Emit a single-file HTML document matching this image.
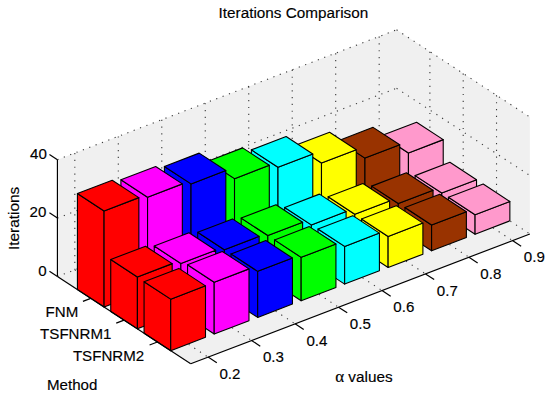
<!DOCTYPE html>
<html><head><meta charset="utf-8">
<style>
html,body{margin:0;padding:0;background:#fff;}
#c{position:relative;width:550px;height:399px;overflow:hidden;background:#fff;font-family:"Liberation Sans",sans-serif;color:#000;}
#c svg{position:absolute;left:0;top:0;}
.t{position:absolute;font-size:14.7px;line-height:1;white-space:nowrap;-webkit-text-stroke:0.15px #000;}
</style></head><body>
<div id="c">
<svg width="550" height="399" viewBox="0 0 550 399">
<polygon points="57.43,159.64 396.57,29.82 529.85,117.06 529.85,233.94 190.71,363.76 57.43,276.52" fill="#f0f0f0"/>
<line x1="74.82" y1="269.86" x2="74.82" y2="152.98" stroke="#3a3a3a" stroke-width="1.1" stroke-linecap="butt" stroke-dasharray="1.2 5.6"/>
<line x1="74.82" y1="269.86" x2="208.10" y2="357.10" stroke="#3a3a3a" stroke-width="1.1" stroke-linecap="butt" stroke-dasharray="1.2 5.6"/>
<line x1="118.30" y1="253.22" x2="118.30" y2="136.34" stroke="#3a3a3a" stroke-width="1.1" stroke-linecap="butt" stroke-dasharray="1.2 5.6"/>
<line x1="118.30" y1="253.22" x2="251.58" y2="340.46" stroke="#3a3a3a" stroke-width="1.1" stroke-linecap="butt" stroke-dasharray="1.2 5.6"/>
<line x1="161.78" y1="236.57" x2="161.78" y2="119.69" stroke="#3a3a3a" stroke-width="1.1" stroke-linecap="butt" stroke-dasharray="1.2 5.6"/>
<line x1="161.78" y1="236.57" x2="295.06" y2="323.81" stroke="#3a3a3a" stroke-width="1.1" stroke-linecap="butt" stroke-dasharray="1.2 5.6"/>
<line x1="205.26" y1="219.93" x2="205.26" y2="103.05" stroke="#3a3a3a" stroke-width="1.1" stroke-linecap="butt" stroke-dasharray="1.2 5.6"/>
<line x1="205.26" y1="219.93" x2="338.54" y2="307.17" stroke="#3a3a3a" stroke-width="1.1" stroke-linecap="butt" stroke-dasharray="1.2 5.6"/>
<line x1="248.74" y1="203.29" x2="248.74" y2="86.41" stroke="#3a3a3a" stroke-width="1.1" stroke-linecap="butt" stroke-dasharray="1.2 5.6"/>
<line x1="248.74" y1="203.29" x2="382.02" y2="290.53" stroke="#3a3a3a" stroke-width="1.1" stroke-linecap="butt" stroke-dasharray="1.2 5.6"/>
<line x1="292.22" y1="186.64" x2="292.22" y2="69.76" stroke="#3a3a3a" stroke-width="1.1" stroke-linecap="butt" stroke-dasharray="1.2 5.6"/>
<line x1="292.22" y1="186.64" x2="425.50" y2="273.88" stroke="#3a3a3a" stroke-width="1.1" stroke-linecap="butt" stroke-dasharray="1.2 5.6"/>
<line x1="335.70" y1="170.00" x2="335.70" y2="53.12" stroke="#3a3a3a" stroke-width="1.1" stroke-linecap="butt" stroke-dasharray="1.2 5.6"/>
<line x1="335.70" y1="170.00" x2="468.98" y2="257.24" stroke="#3a3a3a" stroke-width="1.1" stroke-linecap="butt" stroke-dasharray="1.2 5.6"/>
<line x1="379.18" y1="153.35" x2="379.18" y2="36.47" stroke="#3a3a3a" stroke-width="1.1" stroke-linecap="butt" stroke-dasharray="1.2 5.6"/>
<line x1="379.18" y1="153.35" x2="512.46" y2="240.59" stroke="#3a3a3a" stroke-width="1.1" stroke-linecap="butt" stroke-dasharray="1.2 5.6"/>
<line x1="429.89" y1="168.51" x2="429.89" y2="51.63" stroke="#3a3a3a" stroke-width="1.1" stroke-linecap="butt" stroke-dasharray="1.2 5.6"/>
<line x1="90.75" y1="298.33" x2="429.89" y2="168.51" stroke="#3a3a3a" stroke-width="1.1" stroke-linecap="butt" stroke-dasharray="1.2 5.6"/>
<line x1="463.21" y1="190.32" x2="463.21" y2="73.44" stroke="#3a3a3a" stroke-width="1.1" stroke-linecap="butt" stroke-dasharray="1.2 5.6"/>
<line x1="124.07" y1="320.14" x2="463.21" y2="190.32" stroke="#3a3a3a" stroke-width="1.1" stroke-linecap="butt" stroke-dasharray="1.2 5.6"/>
<line x1="496.53" y1="212.13" x2="496.53" y2="95.25" stroke="#3a3a3a" stroke-width="1.1" stroke-linecap="butt" stroke-dasharray="1.2 5.6"/>
<line x1="157.39" y1="341.95" x2="496.53" y2="212.13" stroke="#3a3a3a" stroke-width="1.1" stroke-linecap="butt" stroke-dasharray="1.2 5.6"/>
<line x1="57.43" y1="276.52" x2="396.57" y2="146.70" stroke="#3a3a3a" stroke-width="1.1" stroke-linecap="butt" stroke-dasharray="1.2 5.6"/>
<line x1="396.57" y1="146.70" x2="529.85" y2="233.94" stroke="#3a3a3a" stroke-width="1.1" stroke-linecap="butt" stroke-dasharray="1.2 5.6"/>
<line x1="57.43" y1="218.08" x2="396.57" y2="88.26" stroke="#3a3a3a" stroke-width="1.1" stroke-linecap="butt" stroke-dasharray="1.2 5.6"/>
<line x1="396.57" y1="88.26" x2="529.85" y2="175.50" stroke="#3a3a3a" stroke-width="1.1" stroke-linecap="butt" stroke-dasharray="1.2 5.6"/>
<line x1="57.43" y1="159.64" x2="396.57" y2="29.82" stroke="#3a3a3a" stroke-width="1.1" stroke-linecap="butt" stroke-dasharray="1.2 5.6"/>
<line x1="396.57" y1="29.82" x2="529.85" y2="117.06" stroke="#3a3a3a" stroke-width="1.1" stroke-linecap="butt" stroke-dasharray="1.2 5.6"/>
<polygon points="381.78,173.10 408.44,190.55 408.44,152.94 381.78,135.49" fill="#ff99cc" stroke="#000" stroke-width="1.1" stroke-linejoin="round"/>
<polygon points="408.44,190.55 443.22,177.23 443.22,139.62 408.44,152.94" fill="#ff99cc" stroke="#000" stroke-width="1.1" stroke-linejoin="round"/>
<polygon points="381.78,135.49 416.57,122.18 443.22,139.62 408.44,152.94" fill="#ff99cc" stroke="#000" stroke-width="1.1" stroke-linejoin="round"/>
<polygon points="338.30,189.74 364.96,207.19 364.96,158.10 338.30,140.65" fill="#993300" stroke="#000" stroke-width="1.1" stroke-linejoin="round"/>
<polygon points="364.96,207.19 399.74,193.87 399.74,144.79 364.96,158.10" fill="#993300" stroke="#000" stroke-width="1.1" stroke-linejoin="round"/>
<polygon points="338.30,140.65 373.09,127.34 399.74,144.79 364.96,158.10" fill="#993300" stroke="#000" stroke-width="1.1" stroke-linejoin="round"/>
<polygon points="294.82,206.39 321.48,223.83 321.48,163.06 294.82,145.61" fill="#ffff00" stroke="#000" stroke-width="1.1" stroke-linejoin="round"/>
<polygon points="321.48,223.83 356.26,210.52 356.26,149.74 321.48,163.06" fill="#ffff00" stroke="#000" stroke-width="1.1" stroke-linejoin="round"/>
<polygon points="294.82,145.61 329.61,132.29 356.26,149.74 321.48,163.06" fill="#ffff00" stroke="#000" stroke-width="1.1" stroke-linejoin="round"/>
<polygon points="251.34,223.03 278.00,240.48 278.00,167.28 251.34,149.83" fill="#00ffff" stroke="#000" stroke-width="1.1" stroke-linejoin="round"/>
<polygon points="278.00,240.48 312.78,227.16 312.78,153.97 278.00,167.28" fill="#00ffff" stroke="#000" stroke-width="1.1" stroke-linejoin="round"/>
<polygon points="251.34,149.83 286.13,136.52 312.78,153.97 278.00,167.28" fill="#00ffff" stroke="#000" stroke-width="1.1" stroke-linejoin="round"/>
<polygon points="207.86,239.67 234.52,257.12 234.52,178.64 207.86,161.19" fill="#00ff00" stroke="#000" stroke-width="1.1" stroke-linejoin="round"/>
<polygon points="234.52,257.12 269.30,243.81 269.30,165.32 234.52,178.64" fill="#00ff00" stroke="#000" stroke-width="1.1" stroke-linejoin="round"/>
<polygon points="207.86,161.19 242.65,147.87 269.30,165.32 234.52,178.64" fill="#00ff00" stroke="#000" stroke-width="1.1" stroke-linejoin="round"/>
<polygon points="164.38,256.32 191.04,273.77 191.04,183.89 164.38,166.44" fill="#0000ff" stroke="#000" stroke-width="1.1" stroke-linejoin="round"/>
<polygon points="191.04,273.77 225.82,260.45 225.82,170.57 191.04,183.89" fill="#0000ff" stroke="#000" stroke-width="1.1" stroke-linejoin="round"/>
<polygon points="164.38,166.44 199.17,153.12 225.82,170.57 191.04,183.89" fill="#0000ff" stroke="#000" stroke-width="1.1" stroke-linejoin="round"/>
<polygon points="120.90,272.96 147.56,290.41 147.56,197.20 120.90,179.75" fill="#ff00ff" stroke="#000" stroke-width="1.1" stroke-linejoin="round"/>
<polygon points="147.56,290.41 182.34,277.09 182.34,183.88 147.56,197.20" fill="#ff00ff" stroke="#000" stroke-width="1.1" stroke-linejoin="round"/>
<polygon points="120.90,179.75 155.69,166.44 182.34,183.88 147.56,197.20" fill="#ff00ff" stroke="#000" stroke-width="1.1" stroke-linejoin="round"/>
<polygon points="77.42,289.61 104.08,307.05 104.08,210.95 77.42,193.50" fill="#ff0000" stroke="#000" stroke-width="1.1" stroke-linejoin="round"/>
<polygon points="104.08,307.05 138.86,293.74 138.86,197.63 104.08,210.95" fill="#ff0000" stroke="#000" stroke-width="1.1" stroke-linejoin="round"/>
<polygon points="77.42,193.50 112.21,180.19 138.86,197.63 104.08,210.95" fill="#ff0000" stroke="#000" stroke-width="1.1" stroke-linejoin="round"/>
<polygon points="415.10,194.91 441.76,212.36 441.76,193.07 415.10,175.62" fill="#ff99cc" stroke="#000" stroke-width="1.1" stroke-linejoin="round"/>
<polygon points="441.76,212.36 476.54,199.04 476.54,179.76 441.76,193.07" fill="#ff99cc" stroke="#000" stroke-width="1.1" stroke-linejoin="round"/>
<polygon points="415.10,175.62 449.89,162.31 476.54,179.76 441.76,193.07" fill="#ff99cc" stroke="#000" stroke-width="1.1" stroke-linejoin="round"/>
<polygon points="371.62,211.55 398.28,229.00 398.28,203.58 371.62,186.13" fill="#993300" stroke="#000" stroke-width="1.1" stroke-linejoin="round"/>
<polygon points="398.28,229.00 433.06,215.68 433.06,190.26 398.28,203.58" fill="#993300" stroke="#000" stroke-width="1.1" stroke-linejoin="round"/>
<polygon points="371.62,186.13 406.41,172.82 433.06,190.26 398.28,203.58" fill="#993300" stroke="#000" stroke-width="1.1" stroke-linejoin="round"/>
<polygon points="328.14,228.20 354.80,245.64 354.80,214.23 328.14,196.78" fill="#ffff00" stroke="#000" stroke-width="1.1" stroke-linejoin="round"/>
<polygon points="354.80,245.64 389.58,232.33 389.58,200.92 354.80,214.23" fill="#ffff00" stroke="#000" stroke-width="1.1" stroke-linejoin="round"/>
<polygon points="328.14,196.78 362.93,183.47 389.58,200.92 354.80,214.23" fill="#ffff00" stroke="#000" stroke-width="1.1" stroke-linejoin="round"/>
<polygon points="284.66,244.84 311.32,262.29 311.32,224.89 284.66,207.44" fill="#00ffff" stroke="#000" stroke-width="1.1" stroke-linejoin="round"/>
<polygon points="311.32,262.29 346.10,248.97 346.10,211.57 311.32,224.89" fill="#00ffff" stroke="#000" stroke-width="1.1" stroke-linejoin="round"/>
<polygon points="284.66,207.44 319.45,194.12 346.10,211.57 311.32,224.89" fill="#00ffff" stroke="#000" stroke-width="1.1" stroke-linejoin="round"/>
<polygon points="241.18,261.48 267.84,278.93 267.84,235.54 241.18,218.09" fill="#00ff00" stroke="#000" stroke-width="1.1" stroke-linejoin="round"/>
<polygon points="267.84,278.93 302.62,265.62 302.62,222.23 267.84,235.54" fill="#00ff00" stroke="#000" stroke-width="1.1" stroke-linejoin="round"/>
<polygon points="241.18,218.09 275.97,204.78 302.62,222.23 267.84,235.54" fill="#00ff00" stroke="#000" stroke-width="1.1" stroke-linejoin="round"/>
<polygon points="197.70,278.13 224.36,295.58 224.36,249.67 197.70,232.22" fill="#0000ff" stroke="#000" stroke-width="1.1" stroke-linejoin="round"/>
<polygon points="224.36,295.58 259.14,282.26 259.14,236.36 224.36,249.67" fill="#0000ff" stroke="#000" stroke-width="1.1" stroke-linejoin="round"/>
<polygon points="197.70,232.22 232.49,218.91 259.14,236.36 224.36,249.67" fill="#0000ff" stroke="#000" stroke-width="1.1" stroke-linejoin="round"/>
<polygon points="154.22,294.77 180.88,312.22 180.88,263.48 154.22,246.03" fill="#ff00ff" stroke="#000" stroke-width="1.1" stroke-linejoin="round"/>
<polygon points="180.88,312.22 215.66,298.90 215.66,250.17 180.88,263.48" fill="#ff00ff" stroke="#000" stroke-width="1.1" stroke-linejoin="round"/>
<polygon points="154.22,246.03 189.01,232.72 215.66,250.17 180.88,263.48" fill="#ff00ff" stroke="#000" stroke-width="1.1" stroke-linejoin="round"/>
<polygon points="110.74,311.42 137.40,328.86 137.40,276.94 110.74,259.49" fill="#ff0000" stroke="#000" stroke-width="1.1" stroke-linejoin="round"/>
<polygon points="137.40,328.86 172.18,315.55 172.18,263.62 137.40,276.94" fill="#ff0000" stroke="#000" stroke-width="1.1" stroke-linejoin="round"/>
<polygon points="110.74,259.49 145.53,246.18 172.18,263.62 137.40,276.94" fill="#ff0000" stroke="#000" stroke-width="1.1" stroke-linejoin="round"/>
<polygon points="448.42,216.72 475.08,234.17 475.08,214.76 448.42,197.32" fill="#ff99cc" stroke="#000" stroke-width="1.1" stroke-linejoin="round"/>
<polygon points="475.08,234.17 509.86,220.85 509.86,201.45 475.08,214.76" fill="#ff99cc" stroke="#000" stroke-width="1.1" stroke-linejoin="round"/>
<polygon points="448.42,197.32 483.21,184.00 509.86,201.45 475.08,214.76" fill="#ff99cc" stroke="#000" stroke-width="1.1" stroke-linejoin="round"/>
<polygon points="404.94,233.36 431.60,250.81 431.60,225.01 404.94,207.56" fill="#993300" stroke="#000" stroke-width="1.1" stroke-linejoin="round"/>
<polygon points="431.60,250.81 466.38,237.49 466.38,211.69 431.60,225.01" fill="#993300" stroke="#000" stroke-width="1.1" stroke-linejoin="round"/>
<polygon points="404.94,207.56 439.73,194.25 466.38,211.69 431.60,225.01" fill="#993300" stroke="#000" stroke-width="1.1" stroke-linejoin="round"/>
<polygon points="361.46,250.01 388.12,267.45 388.12,236.42 361.46,218.97" fill="#ffff00" stroke="#000" stroke-width="1.1" stroke-linejoin="round"/>
<polygon points="388.12,267.45 422.90,254.14 422.90,223.11 388.12,236.42" fill="#ffff00" stroke="#000" stroke-width="1.1" stroke-linejoin="round"/>
<polygon points="361.46,218.97 396.25,205.66 422.90,223.11 388.12,236.42" fill="#ffff00" stroke="#000" stroke-width="1.1" stroke-linejoin="round"/>
<polygon points="317.98,266.65 344.64,284.10 344.64,246.40 317.98,228.96" fill="#00ffff" stroke="#000" stroke-width="1.1" stroke-linejoin="round"/>
<polygon points="344.64,284.10 379.42,270.78 379.42,233.09 344.64,246.40" fill="#00ffff" stroke="#000" stroke-width="1.1" stroke-linejoin="round"/>
<polygon points="317.98,228.96 352.77,215.64 379.42,233.09 344.64,246.40" fill="#00ffff" stroke="#000" stroke-width="1.1" stroke-linejoin="round"/>
<polygon points="274.50,283.29 301.16,300.74 301.16,257.35 274.50,239.90" fill="#00ff00" stroke="#000" stroke-width="1.1" stroke-linejoin="round"/>
<polygon points="301.16,300.74 335.94,287.43 335.94,244.04 301.16,257.35" fill="#00ff00" stroke="#000" stroke-width="1.1" stroke-linejoin="round"/>
<polygon points="274.50,239.90 309.29,226.59 335.94,244.04 301.16,257.35" fill="#00ff00" stroke="#000" stroke-width="1.1" stroke-linejoin="round"/>
<polygon points="231.02,299.94 257.68,317.39 257.68,271.34 231.02,253.89" fill="#0000ff" stroke="#000" stroke-width="1.1" stroke-linejoin="round"/>
<polygon points="257.68,317.39 292.46,304.07 292.46,258.02 257.68,271.34" fill="#0000ff" stroke="#000" stroke-width="1.1" stroke-linejoin="round"/>
<polygon points="231.02,253.89 265.81,240.57 292.46,258.02 257.68,271.34" fill="#0000ff" stroke="#000" stroke-width="1.1" stroke-linejoin="round"/>
<polygon points="187.54,316.58 214.20,334.03 214.20,282.19 187.54,264.75" fill="#ff00ff" stroke="#000" stroke-width="1.1" stroke-linejoin="round"/>
<polygon points="214.20,334.03 248.98,320.71 248.98,268.88 214.20,282.19" fill="#ff00ff" stroke="#000" stroke-width="1.1" stroke-linejoin="round"/>
<polygon points="187.54,264.75 222.33,251.43 248.98,268.88 214.20,282.19" fill="#ff00ff" stroke="#000" stroke-width="1.1" stroke-linejoin="round"/>
<polygon points="144.06,333.23 170.72,350.67 170.72,299.16 144.06,281.71" fill="#ff0000" stroke="#000" stroke-width="1.1" stroke-linejoin="round"/>
<polygon points="170.72,350.67 205.50,337.36 205.50,285.84 170.72,299.16" fill="#ff0000" stroke="#000" stroke-width="1.1" stroke-linejoin="round"/>
<polygon points="144.06,281.71 178.85,268.40 205.50,285.84 170.72,299.16" fill="#ff0000" stroke="#000" stroke-width="1.1" stroke-linejoin="round"/>
<line x1="57.43" y1="276.52" x2="57.43" y2="159.64" stroke="#000" stroke-width="1.2" stroke-linecap="butt"/>
<line x1="57.43" y1="276.52" x2="190.71" y2="363.76" stroke="#000" stroke-width="1.2" stroke-linecap="butt"/>
<line x1="190.71" y1="363.76" x2="529.85" y2="233.94" stroke="#000" stroke-width="1.2" stroke-linecap="butt"/>
<line x1="57.43" y1="276.52" x2="49.43" y2="271.29" stroke="#000" stroke-width="1.2" stroke-linecap="butt"/>
<line x1="57.43" y1="218.08" x2="49.43" y2="212.85" stroke="#000" stroke-width="1.2" stroke-linecap="butt"/>
<line x1="57.43" y1="159.64" x2="49.43" y2="154.41" stroke="#000" stroke-width="1.2" stroke-linecap="butt"/>
<line x1="208.10" y1="357.10" x2="216.77" y2="362.77" stroke="#000" stroke-width="1.2" stroke-linecap="butt"/>
<line x1="251.58" y1="340.46" x2="260.25" y2="346.13" stroke="#000" stroke-width="1.2" stroke-linecap="butt"/>
<line x1="295.06" y1="323.81" x2="303.73" y2="329.49" stroke="#000" stroke-width="1.2" stroke-linecap="butt"/>
<line x1="338.54" y1="307.17" x2="347.21" y2="312.84" stroke="#000" stroke-width="1.2" stroke-linecap="butt"/>
<line x1="382.02" y1="290.53" x2="390.69" y2="296.20" stroke="#000" stroke-width="1.2" stroke-linecap="butt"/>
<line x1="425.50" y1="273.88" x2="434.17" y2="279.55" stroke="#000" stroke-width="1.2" stroke-linecap="butt"/>
<line x1="468.98" y1="257.24" x2="477.65" y2="262.91" stroke="#000" stroke-width="1.2" stroke-linecap="butt"/>
<line x1="512.46" y1="240.59" x2="521.13" y2="246.26" stroke="#000" stroke-width="1.2" stroke-linecap="butt"/>
<line x1="90.75" y1="298.33" x2="82.92" y2="301.33" stroke="#000" stroke-width="1.2" stroke-linecap="butt"/>
<line x1="124.07" y1="320.14" x2="116.24" y2="323.14" stroke="#000" stroke-width="1.2" stroke-linecap="butt"/>
<line x1="157.39" y1="341.95" x2="149.56" y2="344.95" stroke="#000" stroke-width="1.2" stroke-linecap="butt"/>
</svg>
<div class="t" style="left:218.6px;top:4.50px;font-size:15.3px;">Iterations Comparison</div>
<div class="t" style="left:30.0px;top:145.53px;font-size:15.1px;">40</div>
<div class="t" style="left:29.6px;top:203.63px;font-size:15.1px;">20</div>
<div class="t" style="left:38.2px;top:262.63px;font-size:15.1px;">0</div>
<div class="t" style="left:45.6px;top:304.43px;font-size:15.1px;">FNM</div>
<div class="t" style="left:40.1px;top:326.23px;font-size:15.1px;">TSFNRM1</div>
<div class="t" style="left:72.9px;top:348.03px;font-size:15.1px;">TSFNRM2</div>
<div class="t" style="left:47.0px;top:377.23px;font-size:15.1px;">Method</div>
<div class="t" style="left:219.4px;top:365.83px;font-size:15.1px;">0.2</div>
<div class="t" style="left:262.9px;top:349.19px;font-size:15.1px;">0.3</div>
<div class="t" style="left:306.4px;top:332.54px;font-size:15.1px;">0.4</div>
<div class="t" style="left:349.8px;top:315.90px;font-size:15.1px;">0.5</div>
<div class="t" style="left:393.3px;top:299.25px;font-size:15.1px;">0.6</div>
<div class="t" style="left:436.8px;top:282.61px;font-size:15.1px;">0.7</div>
<div class="t" style="left:480.3px;top:265.97px;font-size:15.1px;">0.8</div>
<div class="t" style="left:523.8px;top:249.32px;font-size:15.1px;">0.9</div>
<div class="t" style="left:335.2px;top:367.50px;font-size:15.3px;"><span style="font-family:'Liberation Serif',serif;font-size:17px;">&#945;</span> values</div>
<div class="t" style="left:6.2px;top:250.0px;font-size:15.4px;transform:rotate(-90deg);transform-origin:0 0;">Iterations</div>
</div>
</body></html>
